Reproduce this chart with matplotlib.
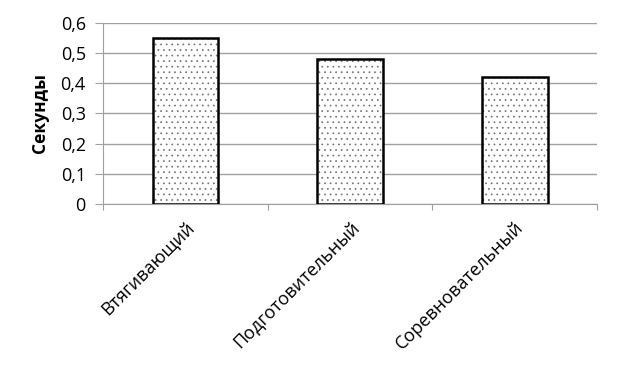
import matplotlib
matplotlib.use("Agg")
import matplotlib.pyplot as plt

# data
stages = ["Втягивающий", "Подготовительный", "Соревновательный"]
seconds = [0.55, 0.48, 0.42]
yticks = [0, 0.1, 0.2, 0.3, 0.4, 0.5, 0.6]
ylabels = ["0", "0,1", "0,2", "0,3", "0,4", "0,5", "0,6"]

plt.rcParams['font.family'] = ['Open Sans', 'DejaVu Sans']
plt.rcParams['hatch.linewidth'] = 0.5

fig = plt.figure(figsize=(6.18, 3.69), dpi=100)
ax = fig.add_axes([0.167, 0.447, 0.799, 0.491])

x = range(len(stages))
# dotted fill first (grey dots), then the black outline on top
ax.bar(x, seconds, width=0.4, color="white", edgecolor="#707070",
       linewidth=0, hatch="...", zorder=3)
ax.bar(x, seconds, width=0.4, fill=False, edgecolor="black",
       linewidth=1.8, zorder=4)

ax.set_xlim(-0.5, len(stages) - 0.5)
ax.set_ylim(0, 0.6)
ax.set_yticks(yticks)
ax.set_yticklabels(ylabels, fontsize=13)
ax.yaxis.grid(True, color="#a0a0a0", linewidth=1)
ax.set_axisbelow(True)

# category boundary ticks below the axis
ax.set_xticks([i - 0.5 for i in range(len(stages) + 1)])
ax.set_xticklabels([])
ax.tick_params(axis="x", direction="out", length=4, color="#a0a0a0")
ax.tick_params(axis="y", direction="out", length=5.5, color="#a0a0a0", pad=7)
for i, name in enumerate(stages):
    ax.text(i, -0.045, name, rotation=45, ha="right", va="top",
            rotation_mode="anchor", fontsize=13)

for s in ["top", "right"]:
    ax.spines[s].set_visible(False)
ax.spines["left"].set_color("#a0a0a0")
ax.spines["bottom"].set_color("#a0a0a0")

ax.set_ylabel("Секунды", fontsize=12.5, fontweight="bold", labelpad=8)

fig.savefig("out.png", dpi=100)
